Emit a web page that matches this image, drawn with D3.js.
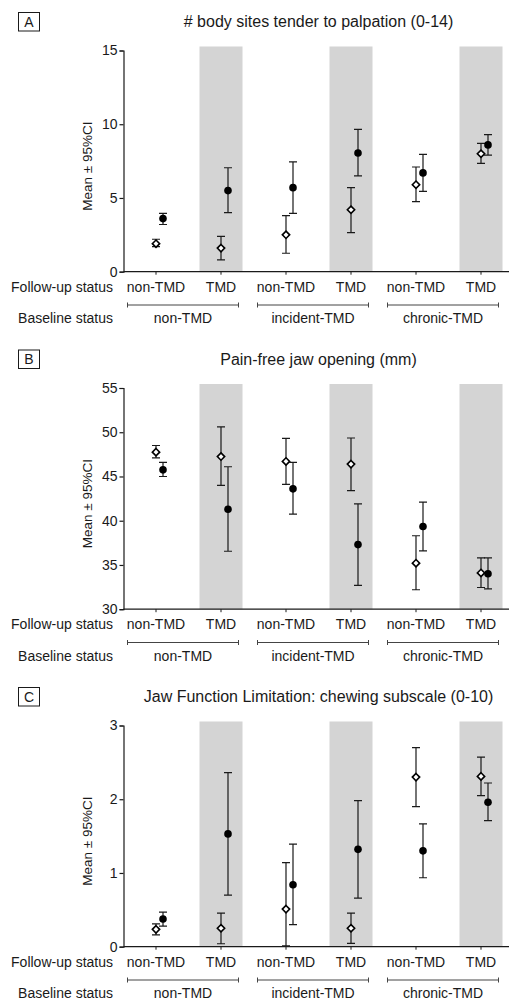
<!DOCTYPE html>
<html>
<head>
<meta charset="UTF-8">
<script src="https://d3js.org/d3.v7.min.js"></script>
<style>
  body { margin: 0; background: #fff; }
  text { font-family: "Liberation Sans", Arial, sans-serif; fill: #1a1a1a; }
</style>
</head>
<body>
<svg width="509" height="1005"></svg>
<script>

// follow-up categories (x axis) and baseline groups
var followUp = ["non-TMD", "TMD", "non-TMD", "TMD", "non-TMD", "TMD"];
var baseline = ["non-TMD", "incident-TMD", "chronic-TMD"];

// panel A: # body sites tender to palpation
var aOpenMean   = [1.9, 1.6, 2.5, 4.2, 5.9, 8.0];
var aOpenLo     = [1.7, 0.8, 1.25, 2.65, 4.75, 7.35];
var aOpenHi     = [2.2, 2.4, 3.8, 5.7, 7.1, 8.7];
var aFilledMean = [3.6, 5.5, 5.7, 8.05, 6.7, 8.6];
var aFilledLo   = [3.2, 4.0, 3.95, 6.5, 5.45, 7.9];
var aFilledHi   = [3.95, 7.05, 7.45, 9.65, 7.95, 9.3];

// panel B: pain-free jaw opening
var bOpenMean   = [47.75, 47.25, 46.7, 46.4, 35.2, 34.1];
var bOpenLo     = [47.1, 44.0, 44.1, 43.4, 32.2, 32.45];
var bOpenHi     = [48.5, 50.6, 49.3, 49.35, 38.3, 35.8];
var bFilledMean = [45.75, 41.3, 43.6, 37.3, 39.35, 34.0];
var bFilledLo   = [45.0, 36.55, 40.75, 32.7, 36.6, 32.3];
var bFilledHi   = [46.6, 46.1, 46.6, 41.9, 42.1, 35.8];

// panel C: jaw function limitation, chewing subscale
var cOpenMean   = [0.235, 0.25, 0.51, 0.25, 2.30, 2.31];
var cOpenLo     = [0.16, 0.04, 0.01, 0.045, 1.90, 2.05];
var cOpenHi     = [0.31, 0.455, 1.14, 0.455, 2.70, 2.57];
var cFilledMean = [0.375, 1.53, 0.84, 1.32, 1.30, 1.96];
var cFilledLo   = [0.28, 0.70, 0.30, 0.66, 0.935, 1.71];
var cFilledHi   = [0.47, 2.36, 1.39, 1.98, 1.665, 2.22];

var panels = [
  { letter: "A", title: "# body sites tender to palpation (0-14)", domain: [0, 15], ticks: [0, 5, 10, 15],
    open: [aOpenMean, aOpenLo, aOpenHi], filled: [aFilledMean, aFilledLo, aFilledHi] },
  { letter: "B", title: "Pain-free jaw opening (mm)", domain: [30, 55], ticks: [30, 35, 40, 45, 50, 55],
    open: [bOpenMean, bOpenLo, bOpenHi], filled: [bFilledMean, bFilledLo, bFilledHi] },
  { letter: "C", title: "Jaw Function Limitation: chewing subscale (0-10)", domain: [0, 3], ticks: [0, 1, 2, 3],
    open: [cOpenMean, cOpenLo, cOpenHi], filled: [cFilledMean, cFilledLo, cFilledHi] }
];

var svg = d3.select("svg"),
    left = 123.5,
    right = 513.5,
    plotTop = 50.5,
    plotH = 221.2,
    step = 337.5,
    ink = "#1a1a1a";

var x = d3.scaleBand().domain(d3.range(6)).range([left, right]).padding(0);
var cx = function(i) { return x(i) + x.bandwidth() / 2; };

panels.forEach(function(p, k) {
  var g = svg.append("g").attr("transform", "translate(0," + (k * step) + ")");
  var y = d3.scaleLinear().domain(p.domain).range([plotTop + plotH, plotTop]);
  var bottom = plotTop + plotH;

  // shaded TMD columns
  g.selectAll("rect.band")
    .data(d3.range(6).filter(function(i) { return i % 2 == 1; }))
    .enter().append("rect")
      .attr("x", function(i) { return cx(i) - 21.5; })
      .attr("width", 43)
      .attr("y", plotTop - 4)
      .attr("height", plotH + 4)
      .attr("fill", "#d4d4d4");

  // panel letter box
  g.append("rect")
    .attr("x", 18.5).attr("y", 12.5).attr("width", 21).attr("height", 18.5)
    .attr("fill", "none").attr("stroke", ink).attr("stroke-width", 1);
  g.append("text")
    .attr("x", 29).attr("y", 26.5)
    .attr("text-anchor", "middle").attr("font-size", 14)
    .text(p.letter);

  g.append("text")
    .attr("x", 318.5).attr("y", plotTop - 23.5)
    .attr("text-anchor", "middle").attr("font-size", 16)
    .text(p.title);

  // y axis
  var yAxis = g.append("g")
      .attr("transform", "translate(" + left + ",0)")
      .call(d3.axisLeft(y).tickValues(p.ticks).tickFormat(d3.format("d")).tickSize(4).tickPadding(2));
  yAxis.select(".domain").attr("stroke", ink).attr("stroke-width", 1.2);
  yAxis.selectAll(".tick line").attr("stroke", ink).attr("stroke-width", 1.2);
  yAxis.selectAll(".tick text").attr("font-size", 14).attr("fill", ink)
    .attr("font-family", "Liberation Sans, Arial, sans-serif");

  g.append("text")
    .attr("transform", "translate(92," + (plotTop + plotH / 2 + 5) + ") rotate(-90)")
    .attr("text-anchor", "middle").attr("font-size", 13.5)
    .text("Mean \u00b1 95%CI");

  // x axis line and ticks
  g.append("line")
    .attr("x1", left).attr("x2", 509).attr("y1", bottom).attr("y2", bottom)
    .attr("stroke", ink).attr("stroke-width", 1.2);
  g.selectAll("line.xt")
    .data(d3.range(6))
    .enter().append("line")
      .attr("x1", cx).attr("x2", cx)
      .attr("y1", bottom).attr("y2", bottom + 3)
      .attr("stroke", ink).attr("stroke-width", 1);

  g.append("text")
    .attr("x", 113).attr("y", bottom + 20)
    .attr("text-anchor", "end").attr("font-size", 14)
    .text("Follow-up status");
  g.selectAll("text.fu")
    .data(followUp)
    .enter().append("text")
      .attr("x", function(d, i) { return cx(i); })
      .attr("y", bottom + 20)
      .attr("text-anchor", "middle").attr("font-size", 14)
      .text(function(d) { return d; });

  // baseline brackets
  g.append("text")
    .attr("x", 113).attr("y", bottom + 51.5)
    .attr("text-anchor", "end").attr("font-size", 14)
    .text("Baseline status");
  baseline.forEach(function(b, j) {
    var mid = (cx(2 * j) + cx(2 * j + 1)) / 2 - 5.5;
    var by = bottom + 33.3;
    g.append("path")
      .attr("d", "M" + (mid - 55.5) + "," + (by - 2.5) + "v5M" + (mid - 55.5) + "," + by + "H" + (mid + 55.5) +
                 "M" + (mid + 55.5) + "," + (by - 2.5) + "v5")
      .attr("fill", "none").attr("stroke", "#444").attr("stroke-width", 1);
    g.append("text")
      .attr("x", mid).attr("y", bottom + 51.5)
      .attr("text-anchor", "middle").attr("font-size", 14)
      .text(b);
  });

  // error bars + markers, open diamonds at the centre, filled circles shifted right
  function series(vals, dx, filled) {
    var mean = vals[0], lo = vals[1], hi = vals[2];
    var s = g.append("g");
    mean.forEach(function(m, i) {
      var px = cx(i) + dx;
      s.append("path")
        .attr("d", "M" + px + "," + y(lo[i]) + "V" + y(hi[i]) +
                   "M" + (px - 4) + "," + y(hi[i]) + "h8" +
                   "M" + (px - 4) + "," + y(lo[i]) + "h8")
        .attr("fill", "none").attr("stroke", ink).attr("stroke-width", 1.2);
      if (filled) {
        s.append("circle")
          .attr("cx", px).attr("cy", y(m)).attr("r", 3.8)
          .attr("fill", "#000");
      } else {
        s.append("path")
          .attr("d", d3.symbol().type(d3.symbolDiamond2).size(34)())
          .attr("transform", "translate(" + px + "," + y(m) + ")")
          .attr("fill", "#fff").attr("stroke", "#000").attr("stroke-width", 1.6);
      }
    });
  }
  series(p.open, 0, false);
  series(p.filled, 7, true);
});

</script>
</body>
</html>
